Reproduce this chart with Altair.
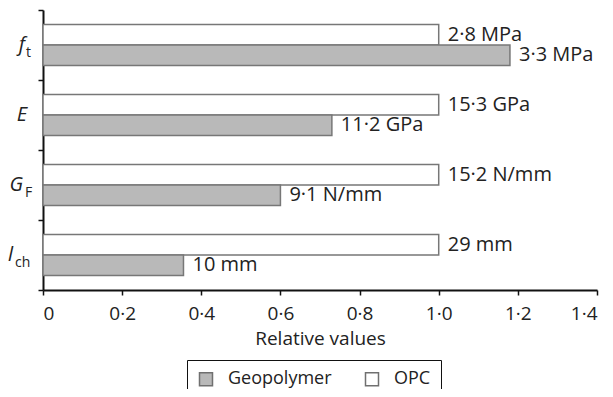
import altair as alt
import pandas as pd

categories = ["f_t", "E", "G_F", "l_ch"]
series = ["OPC", "Geopolymer"]
opc_rel = [1.0, 1.0, 1.0, 1.0]
geo_rel = [1.18, 0.73, 0.60, 0.355]
opc_labels = ["2·8 MPa", "15·3 GPa", "15·2 N/mm", "29 mm"]
geo_labels = ["3·3 MPa", "11·2 GPa", "9·1 N/mm", "10 mm"]
main_letters = ["f", "E", "G", "l"]
sub_letters = ["t", "", "F", "ch"]
x_ticks = [0, 0.2, 0.4, 0.6, 0.8, 1.0, 1.2, 1.4]

# style: horizontal pixel offsets for the composite y labels
main_x = {"f_t": -18, "E": -16, "G_F": -20, "l_ch": -30}
sub_x = {"f_t": -17, "E": -16, "G_F": -18, "l_ch": -28}

FONT = "Open Sans"

rows = []
for c, o, g, ol, gl in zip(categories, opc_rel, geo_rel, opc_labels, geo_labels):
    rows.append({"cat": c, "series": "OPC", "value": o, "label": ol})
    rows.append({"cat": c, "series": "Geopolymer", "value": g, "label": gl})
df = pd.DataFrame(rows)

lab = pd.DataFrame({"cat": categories, "main": main_letters, "sub": sub_letters})

y_enc = alt.Y("cat:N", sort=categories,
              scale=alt.Scale(domain=categories, paddingInner=0, paddingOuter=0),
              axis=alt.Axis(labels=False, title=None, ticks=True, tickBand="extent",
                            tickSize=5, tickColor="#111", tickWidth=1.5,
                            domainColor="#111", domainWidth=2, grid=False))
yoff = alt.YOffset("series:N",
                   scale=alt.Scale(domain=series, paddingInner=0, paddingOuter=0.707))

x_enc = alt.X("value:Q",
              scale=alt.Scale(domain=[0, 1.4], nice=False),
              axis=alt.Axis(values=x_ticks, title="Relative values",
                            labelExpr="datum.value == 0 ? '0' : replace(format(datum.value, '.1f'), '.', '·')",
                            tickSize=5, tickColor="#111", tickWidth=1.5,
                            domainColor="#111", domainWidth=2, grid=False,
                            labelFontSize=19, labelFont=FONT, labelColor="#222",
                            labelPadding=9, titleFontSize=19, titleFont=FONT,
                            titleFontWeight="normal", titleColor="#222", titlePadding=6))

bars = alt.Chart(df).mark_bar(stroke="#777777", strokeWidth=1.5).encode(
    x=x_enc,
    y=y_enc,
    yOffset=yoff,
    color=alt.Color("series:N",
                    scale=alt.Scale(domain=["Geopolymer", "OPC"], range=["#b9b9b9", "#ffffff"]),
                    legend=alt.Legend(title=None, orient="none", legendX=144, legendY=350,
                                      direction="horizontal", strokeColor="#111",
                                      padding=10, symbolType="square", symbolSize=169,
                                      symbolStrokeColor="#707070", symbolStrokeWidth=1.5,
                                      labelFontSize=18, labelFont=FONT, labelColor="#222",
                                      labelOffset=13, columnPadding=30,
                                      fillColor="white")),
)

texts = alt.Chart(df).mark_text(align="left", baseline="middle", dx=9,
                                fontSize=20, font=FONT, color="#222").encode(
    x="value:Q",
    y=alt.Y("cat:N", sort=categories),
    yOffset=yoff,
    text="label:N",
)

layers = [bars, texts]
for c in categories:
    base = alt.Chart(lab).transform_filter(alt.datum.cat == c)
    layers.append(base.mark_text(align="right", baseline="alphabetic", dy=6,
                                 fontSize=20, fontStyle="italic", font=FONT, color="#222").encode(
        x=alt.value(main_x[c]), y=alt.Y("cat:N", sort=categories), text="main:N"))
    layers.append(base.mark_text(align="left", baseline="alphabetic", dy=12,
                                 fontSize=14, font=FONT, color="#222").encode(
        x=alt.value(sub_x[c]), y=alt.Y("cat:N", sort=categories), text="sub:N"))

chart = alt.layer(*layers).properties(
    width=554, height=280,
    autosize=alt.AutoSizeParams(type="none"),
    padding={"left": 35, "top": 2, "right": 8, "bottom": 99},
).configure_view(stroke=None)

chart.save("out.html", embed_options={"renderer": "svg", "actions": False})
